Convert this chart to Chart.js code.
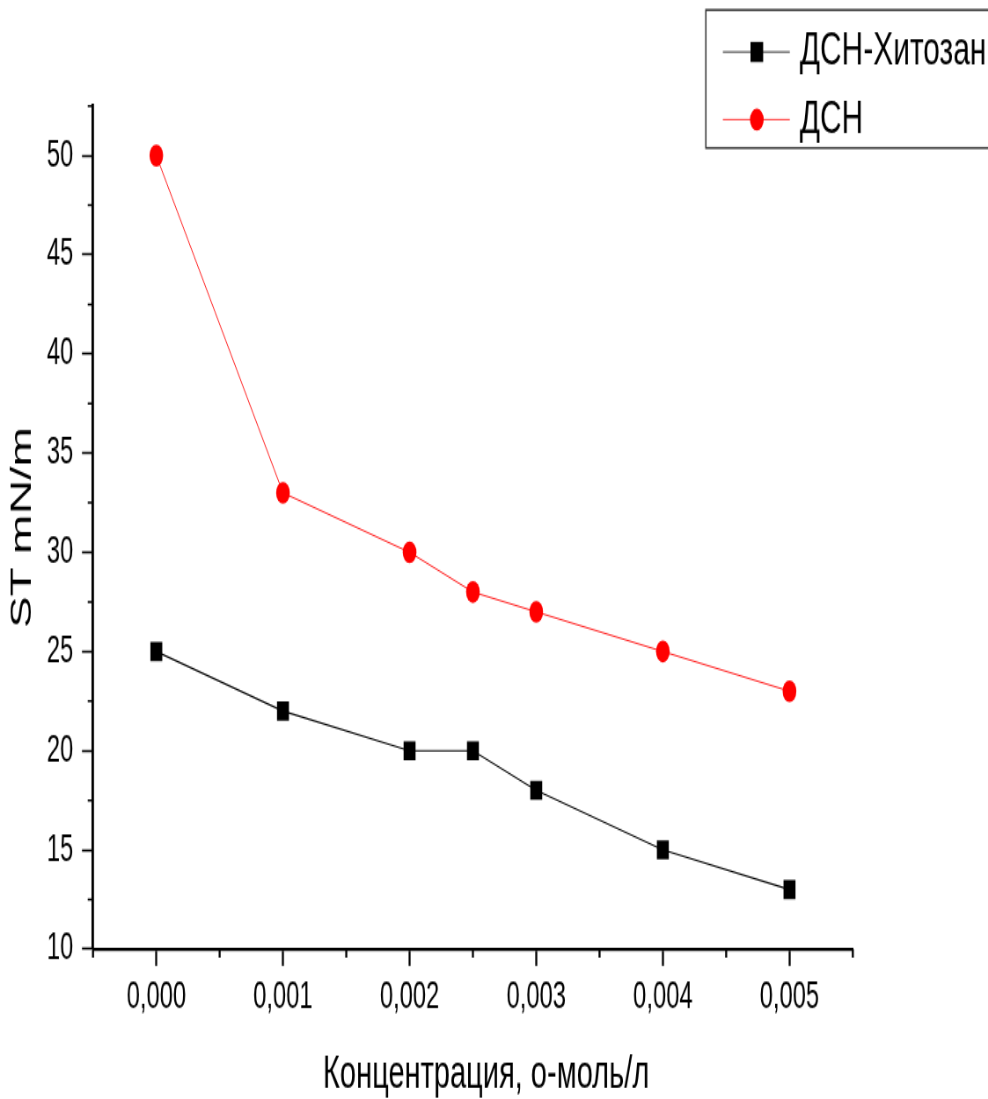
<!DOCTYPE html>
<html>
<head>
<meta charset="utf-8">
<script src="https://cdn.jsdelivr.net/npm/chart.js@4"></script>
<style>
  html { margin: 0; padding: 0; background: #fff; overflow: hidden; }
  body { margin: 0; padding: 0; width: 988px; height: 1099px; background: #fff; }
  /* the original picture is squeezed sideways and stretched up/down, so the chart is drawn
     at 1123x785 and scaled to 988x1099 */
  #caixa { width: 1123px; height: 785px; transform: scale(0.8798, 1.4); transform-origin: 0 0; }
  #grafico { display: block; }
</style>
</head>
<body>
<div id="caixa"><canvas id="grafico" width="1123" height="785"></canvas></div>
<script>
// data
var concentracao = [0, 0.001, 0.002, 0.0025, 0.003, 0.004, 0.005];
var stQuitosana = [25, 22, 20, 20, 18, 15, 13];   // ДСН-Хитозан
var stDSN = [50, 33, 30, 28, 27, 25, 23];          // ДСН
var nomesSeries = ['ДСН-Хитозан', 'ДСН'];
var tituloX = 'Концентрация, о-моль/л';
var tituloY = 'ST mN/m';

// tick values
var xTicks = [0, 0.001, 0.002, 0.003, 0.004, 0.005];
var xTicksMenores = [-0.0005, 0.0005, 0.0015, 0.0025, 0.0035, 0.0045, 0.0055];
var yTicks = [10, 15, 20, 25, 30, 35, 40, 45, 50];
var yTicksMenores = [12.5, 17.5, 22.5, 27.5, 32.5, 37.5, 42.5, 47.5, 52.5];

var fonte = "'Liberation Sans', Arial, sans-serif";

function pontos(ys) {
  return concentracao.map(function(c, i) { return { x: c, y: ys[i] }; });
}

// minor ticks drawn through the scales, plus the x title (sits a bit right of centre)
var ticksMenores = {
  id: 'ticksMenores',
  afterDraw: function(chart) {
    var ctx = chart.ctx;
    var sx = chart.scales.x, sy = chart.scales.y;
    ctx.save();
    ctx.strokeStyle = '#000';
    ctx.lineWidth = 2.3;
    ctx.beginPath();
    xTicksMenores.forEach(function(v) {
      var px = sx.getPixelForValue(v);
      ctx.moveTo(px, sx.top);
      ctx.lineTo(px, sx.top + 6);
    });
    ctx.stroke();
    ctx.lineWidth = 1.5;
    ctx.beginPath();
    yTicksMenores.forEach(function(v) {
      var py = sy.getPixelForValue(v);
      ctx.moveTo(sy.right, py);
      ctx.lineTo(sy.right - 6, py);
    });
    ctx.stroke();

    ctx.fillStyle = '#000';
    ctx.font = '33px ' + fonte;
    ctx.textAlign = 'center';
    ctx.textBaseline = 'middle';
    ctx.fillText(tituloX, 552.5, 768);
    ctx.restore();
  }
};

// legend in a box at the top right (cut by the right edge)
var legendaCaixa = {
  id: 'legendaCaixa',
  afterDraw: function(chart) {
    var ctx = chart.ctx;
    ctx.save();
    ctx.strokeStyle = '#333';
    ctx.lineWidth = 1.5;
    ctx.strokeRect(802.3, 7.1, 360, 98.6);
    var linhasY = [37.1, 85.4];
    chart.data.datasets.forEach(function(ds, i) {
      var y = linhasY[i];
      ctx.strokeStyle = ds.borderColor;
      ctx.lineWidth = 0.8;
      ctx.beginPath();
      ctx.moveTo(821.6, y);
      ctx.lineTo(897.7, y);
      ctx.stroke();
      ctx.fillStyle = ds.pointBackgroundColor;
      if (ds.pointStyle === 'rect') {
        ctx.fillRect(860.2 - 7.2, y - 7.2, 14.4, 14.4);
      } else {
        ctx.beginPath();
        ctx.arc(860.2, y, 7.8, 0, Math.PI * 2);
        ctx.fill();
      }
      ctx.fillStyle = '#000';
      ctx.font = '34px ' + fonte;
      ctx.textBaseline = 'middle';
      ctx.textAlign = 'left';
      ctx.fillText(ds.label, 909, y);
    });
    ctx.restore();
  }
};

var meuGrafico = new Chart(document.getElementById('grafico'), {
  type: 'line',
  data: {
    datasets: [{
      label: nomesSeries[0],
      data: pontos(stQuitosana),
      borderColor: '#000',
      borderWidth: 1.1,
      pointStyle: 'rect',
      pointRadius: 9.6,
      pointBackgroundColor: '#000',
      pointBorderWidth: 0,
      tension: 0
    }, {
      label: nomesSeries[1],
      data: pontos(stDSN),
      borderColor: '#ff0000',
      borderWidth: 0.9,
      pointStyle: 'circle',
      pointRadius: 7.8,
      pointBackgroundColor: '#ff0000',
      pointBorderWidth: 0,
      tension: 0
    }]
  },
  options: {
    responsive: false,
    animation: false,
    devicePixelRatio: 1,
    layout: { padding: { top: 75.7, right: 153.7, left: 0, bottom: 0 } },
    plugins: { legend: { display: false }, tooltip: { enabled: false } },
    scales: {
      x: {
        type: 'linear',
        min: -0.0005,
        max: 0.0055,
        afterBuildTicks: function(scale) {
          scale.ticks = xTicks.map(function(v) { return { value: v }; });
        },
        afterFit: function(scale) { scale.height = 107.1; },
        border: { display: true, color: '#000', width: 2.2 },
        grid: { drawOnChartArea: false, drawTicks: true, tickLength: 12, tickColor: '#000', tickWidth: 2.3 },
        ticks: {
          autoSkip: false,
          maxRotation: 0,
          padding: 6,
          color: '#000',
          font: { family: fonte, size: 27 },
          callback: function(v) { return Number(v).toFixed(3).replace('.', ','); }
        }
      },
      y: {
        type: 'linear',
        min: 10,
        max: 52.5,
        afterBuildTicks: function(scale) {
          scale.ticks = yTicks.map(function(v) { return { value: v }; });
        },
        afterFit: function(scale) { scale.width = 105.7; },
        border: { display: true, color: '#000', width: 2.8 },
        grid: { drawOnChartArea: false, drawTicks: true, tickLength: 12.5, tickColor: '#000', tickWidth: 1.6 },
        ticks: {
          autoSkip: false,
          padding: 10,
          color: '#000',
          font: { family: fonte, size: 27 }
        },
        title: {
          display: true,
          text: tituloY,
          color: '#000',
          font: { family: fonte, size: 34, lineHeight: 1 },
          padding: { top: 8.6, bottom: 0 }
        }
      }
    }
  },
  plugins: [ticksMenores, legendaCaixa]
});
</script>
</body>
</html>
